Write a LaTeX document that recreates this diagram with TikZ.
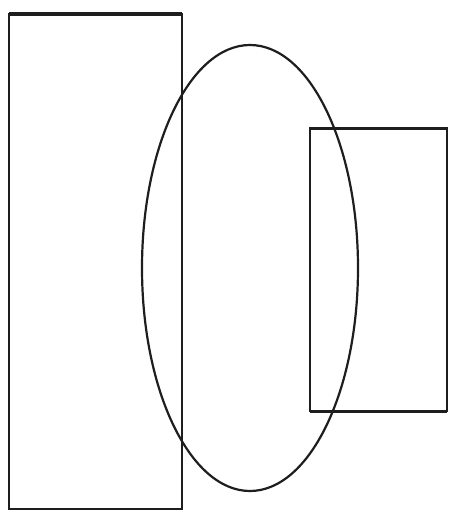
\documentclass[tikz,border=0pt]{standalone}
\usepackage{tikz}
\usetikzlibrary{shapes.geometric}
\definecolor{InkGray}{HTML}{1E1E1E}

\begin{document}
\begin{tikzpicture}[x=1pt,y=-1pt,
  box/.style={draw=InkGray,line width=2pt,inner sep=0pt,outer sep=0pt},
  oval/.style={draw=InkGray,ellipse,line width=2.2pt,inner sep=0pt,outer sep=0pt}]
  \useasboundingbox (0,0) rectangle (449,512);
  \node[box,minimum width=173pt,minimum height=495pt] (left) at (95.5,261.5) {};
  \node[box,minimum width=137pt,minimum height=283pt] (right) at (378.5,269.5) {};
  \node[oval,minimum width=216pt,minimum height=446pt] (ring) at (250,268) {};
  % heavier top edges
  \draw[InkGray,line width=3.4pt] (left.north west) -- (left.north east);
  \draw[InkGray,line width=3pt] (right.north west) -- (right.north east);
  \draw[InkGray,line width=3pt] (right.south west) -- (right.south east);
\end{tikzpicture}
\end{document}
